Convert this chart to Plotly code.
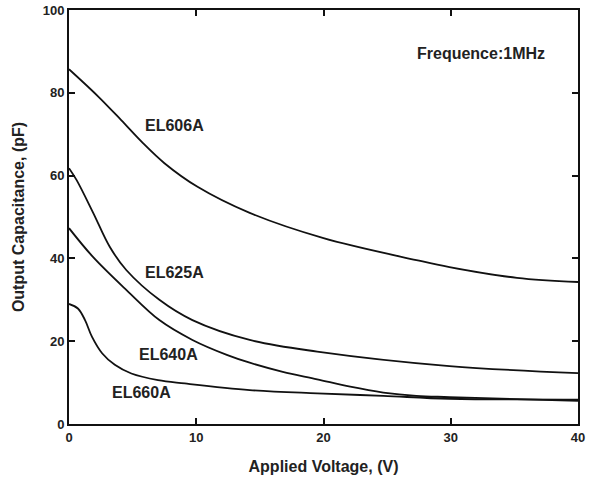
import plotly.graph_objects as go

# EL606A
v606 = [0, 2.3, 4.1, 5.7, 7.5, 10.1, 14.2, 20, 27.3, 29.9, 35.2, 40]
c606 = [85.7, 79.1, 73.4, 68.2, 63.0, 57.3, 51.0, 44.9, 39.6, 37.9, 35.3, 34.3]
# EL625A
v625 = [0, 0.6, 1.9, 3.2, 4.5, 7.1, 9.7, 14.2, 19.5, 29.9, 40]
c625 = [61.8, 58.9, 51.0, 42.8, 37.2, 30.0, 25.1, 20.3, 17.5, 14.0, 12.3]
# EL640A
v640 = [0, 1.9, 4.5, 7.1, 9.7, 12.4, 14.2, 16.8, 19.5, 22.1, 24.7, 27.3, 29.9, 40]
c640 = [47.3, 40.3, 32.4, 25.1, 20.3, 16.7, 14.8, 12.6, 10.8, 9.0, 7.6, 6.8, 6.5, 5.6]
# EL660A
v660 = [0, 0.7, 1.26, 1.8, 2.6, 3.6, 4.9, 7.0, 9.1, 14.2, 19.5, 24.7, 29.9, 40]
c660 = [29.0, 27.9, 25.1, 21.1, 17.1, 14.3, 12.2, 10.6, 9.8, 8.2, 7.4, 6.8, 6.1, 5.9]

labels = ["EL606A", "EL625A", "EL640A", "EL660A"]
label_x = [8.3, 8.3, 7.8, 5.7]
label_y = [72.0, 36.7, 16.9, 7.5]

x_ticks = [0, 10, 20, 30, 40]
y_ticks = [0, 20, 40, 60, 80, 100]

FONT = "Liberation Sans, Arial"

fig = go.Figure()
for vx, cy in [(v606, c606), (v625, c625), (v640, c640), (v660, c660)]:
    fig.add_trace(go.Scatter(x=vx, y=cy, mode="lines",
                             line=dict(color="#111111", width=1.8, shape="spline", smoothing=1.0),
                             showlegend=False, hoverinfo="skip"))

for t, lx, ly in zip(labels, label_x, label_y):
    fig.add_annotation(x=lx, y=ly, text=t, showarrow=False,
                       font=dict(family=FONT, size=16, color="#222222", weight="bold"))

fig.add_annotation(x=32.4, y=89.6, text="Frequence:1MHz", showarrow=False,
                   font=dict(family=FONT, size=16, color="#222222", weight="bold"))

axis_common = dict(showgrid=False, zeroline=False, showline=True, linecolor="#111111", linewidth=2,
                   ticks="inside", ticklen=6, tickwidth=1.5, tickcolor="#111111", mirror="ticks",
                   automargin=False,
                   tickfont=dict(family=FONT, size=13, color="#222222", weight="bold"))

fig.update_xaxes(range=[0, 40], tickvals=x_ticks, ticktext=[str(v) for v in x_ticks],
                 title=dict(text="Applied Voltage, (V)", standoff=17,
                            font=dict(family=FONT, size=16, color="#222222", weight="bold")),
                 **axis_common)
fig.update_yaxes(range=[0, 100], tickvals=y_ticks, ticktext=[str(v) for v in y_ticks],
                 title=dict(text="Output Capacitance, (pF)", standoff=14,
                            font=dict(family=FONT, size=16, color="#222222", weight="bold")),
                 **axis_common)

fig.update_layout(width=592, height=485, margin=dict(l=69, r=14, t=10, b=61),
                  plot_bgcolor="white", paper_bgcolor="white")

fig.write_html("out.html", config={"displayModeBar": False},
               post_script="document.body.style.margin='0';")
